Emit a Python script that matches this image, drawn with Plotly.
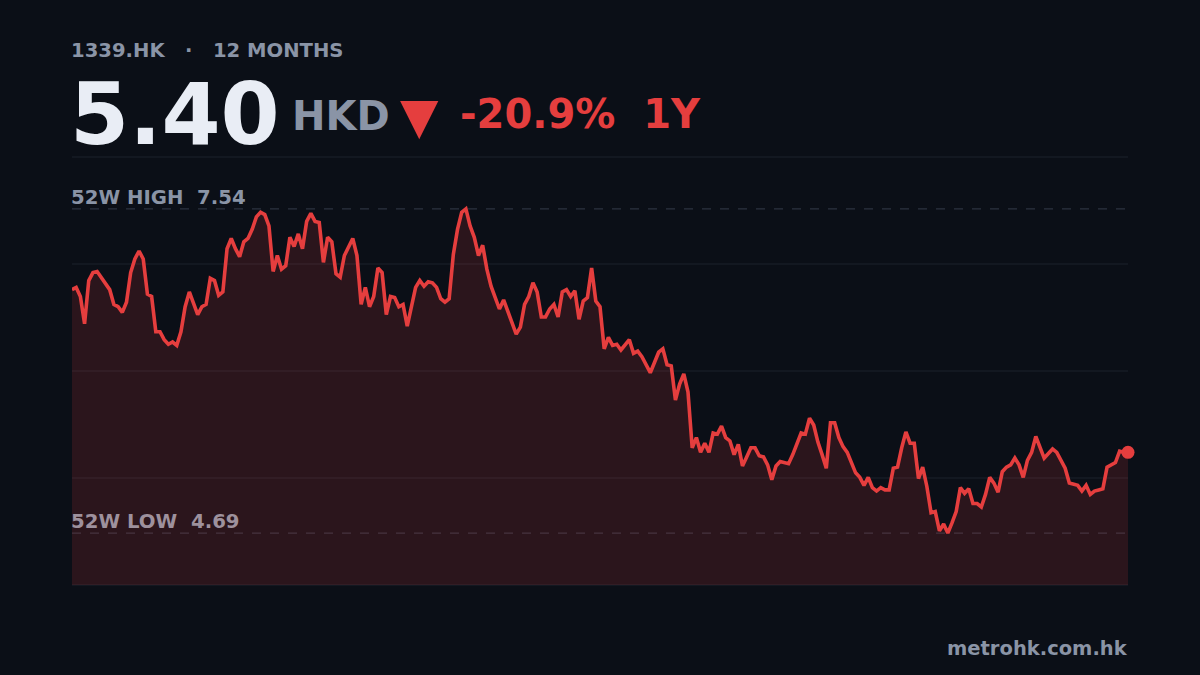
import plotly.graph_objects as go

# 1339.HK daily closes, last 12 months
ticker = "1339.HK"
period_label = "12 MONTHS"
currency = "HKD"
site = "metrohk.com.hk"

closes = [
    6.83, 6.85, 6.77, 6.53, 6.91, 6.98, 6.99, 6.94, 6.88, 6.83,
    6.70, 6.68, 6.63, 6.72, 6.98, 7.10, 7.17, 7.10, 6.79, 6.77,
    6.46, 6.46, 6.39, 6.35, 6.37, 6.34, 6.46, 6.68, 6.81, 6.72,
    6.61, 6.68, 6.70, 6.93, 6.91, 6.78, 6.81, 7.19, 7.28, 7.19,
    7.12, 7.25, 7.28,
    7.36, 7.47, 7.51, 7.49, 7.39, 6.99, 7.13, 7.01, 7.04, 7.29,
    7.21, 7.32, 7.19, 7.43, 7.50, 7.43, 7.42, 7.07, 7.29, 7.25,
    6.97, 6.94, 7.13, 7.20, 7.28, 7.13, 6.70, 6.85, 6.68, 6.77,
    7.02, 6.98, 6.61, 6.77, 6.76, 6.68, 6.70, 6.51, 6.68, 6.85,
    6.91, 6.86, 6.90, 6.89, 6.85, 6.75, 6.72, 6.75,
    7.14, 7.36, 7.51, 7.54, 7.39, 7.29, 7.13, 7.22, 7.01, 6.86,
    6.76, 6.66, 6.74, 6.64, 6.54, 6.44, 6.50, 6.70, 6.77, 6.89,
    6.81, 6.59, 6.59, 6.66, 6.70, 6.59, 6.81, 6.83, 6.77, 6.82,
    6.57, 6.73, 6.76, 7.02, 6.73, 6.68, 6.31, 6.41, 6.34, 6.35,
    6.30, 6.34, 6.39, 6.27, 6.29, 6.24,
    6.17, 6.10, 6.19, 6.28, 6.31, 6.17, 6.16, 5.86, 6.00, 6.09,
    5.93, 5.44, 5.53, 5.40, 5.48, 5.40, 5.57, 5.56, 5.63, 5.53,
    5.50, 5.38, 5.47, 5.28, 5.36, 5.44, 5.44, 5.37, 5.36, 5.29,
    5.16, 5.28, 5.32,
    5.31, 5.30, 5.38, 5.48, 5.57, 5.56, 5.70, 5.64, 5.49, 5.38,
    5.26, 5.66, 5.66, 5.53, 5.45, 5.40, 5.31, 5.22, 5.18, 5.11,
    5.18, 5.09, 5.06, 5.09, 5.07, 5.07, 5.26, 5.27, 5.44, 5.58,
    5.48, 5.48, 5.17, 5.27, 5.10, 4.87, 4.88, 4.71, 4.77, 4.69,
    4.78, 4.88, 5.09, 5.04, 5.08,
    4.95, 4.95, 4.92, 5.03, 5.18, 5.13, 5.05, 5.23, 5.27, 5.29,
    5.35, 5.29, 5.18, 5.33, 5.40, 5.54, 5.44, 5.35, 5.39, 5.43,
    5.40, 5.33, 5.26, 5.13, 5.12, 5.11, 5.06, 5.11, 5.03, 5.06,
    5.07, 5.08, 5.27, 5.29, 5.31, 5.41, 5.40, 5.40,
]
days = list(range(len(closes)))

last = closes[-1]
hi = max(closes)
lo = min(closes)
chg = (last / closes[0] - 1) * 100

BG = "#0b0f17"
RED = "#e53e3e"
GREY = "#8a94a6"
GRID = "#1d222c"
FONT = "DejaVu Sans"

W, H = 1200, 675
L, R, T, B = 72, 72, 157, 90
pad = (hi - lo) * 0.16
y0, y1 = lo - pad, hi + pad


# pixel -> paper helpers for the text placed around the plot
def px_x(x):
    return (x - L) / (W - L - R)


def px_y(y):
    return (H - B - y) / (H - T - B)


fig = go.Figure()

fig.add_trace(go.Scatter(
    x=days, y=closes, mode="lines",
    line=dict(color=RED, width=3.6),
    fill="tozeroy", fillcolor="rgba(229,62,62,0.15)",
    hoverinfo="skip", cliponaxis=False,
))
fig.add_trace(go.Scatter(
    x=[days[-1]], y=[last], mode="markers",
    marker=dict(color=RED, size=13),
    hoverinfo="skip", cliponaxis=False,
))

# horizontal guide lines
for f in [0, 0.25, 0.5, 0.75, 1]:
    fig.add_shape(type="line", xref="paper", yref="paper", x0=0, x1=1, y0=f, y1=f,
                  line=dict(color=GRID, width=1), layer="below")
for v in [hi, lo]:
    fig.add_shape(type="line", xref="paper", yref="y", x0=0, x1=1, y0=v, y1=v,
                  line=dict(color="#2c3340", width=1.2, dash="dash"), layer="below")

ann = [
    dict(text=f"{ticker}   ·   {period_label}", x=px_x(69), y=px_y(50),
         font=dict(size=19.6, color=GREY)),
    dict(text=f"{last:.2f}", x=px_x(68), y=px_y(114),
         font=dict(size=85, color="#e9edf5")),
    dict(text=currency, x=px_x(290), y=px_y(116),
         font=dict(size=40, color=GREY)),
    dict(text="▼", x=px_x(398), y=px_y(116),
         font=dict(size=50, color=RED)),
    dict(text=f"{chg:.1f}%  1Y", x=px_x(458), y=px_y(114),
         font=dict(size=40, color=RED)),
    dict(text=f"52W HIGH  {hi:.2f}", x=px_x(69), y=px_y(197),
         font=dict(size=19.7, color=GREY)),
    dict(text=f"52W LOW  {lo:.2f}", x=px_x(69), y=px_y(521),
         font=dict(size=19.7, color="#9e919d")),
]
for a in ann:
    a.update(xref="paper", yref="paper", xanchor="left", yanchor="middle",
             showarrow=False)
    a["font"].update(family=FONT, weight="bold")
    fig.add_annotation(**a)

fig.add_annotation(text=site, xref="paper", yref="paper", x=px_x(1130), y=px_y(648),
                   xanchor="right", yanchor="middle", showarrow=False,
                   font=dict(family=FONT, size=19.5, color=GREY, weight="bold"))

fig.update_layout(
    width=W, height=H,
    paper_bgcolor=BG, plot_bgcolor=BG,
    margin=dict(l=L, r=R, t=T, b=B),
    showlegend=False,
    xaxis=dict(visible=False, range=[0, len(closes) - 1]),
    yaxis=dict(visible=False, range=[y0, y1]),
)

fig.write_html("out.html", config={"displayModeBar": False},
               post_script="document.body.style.margin='0';"
                           "document.body.style.background='#0b0f17';")
